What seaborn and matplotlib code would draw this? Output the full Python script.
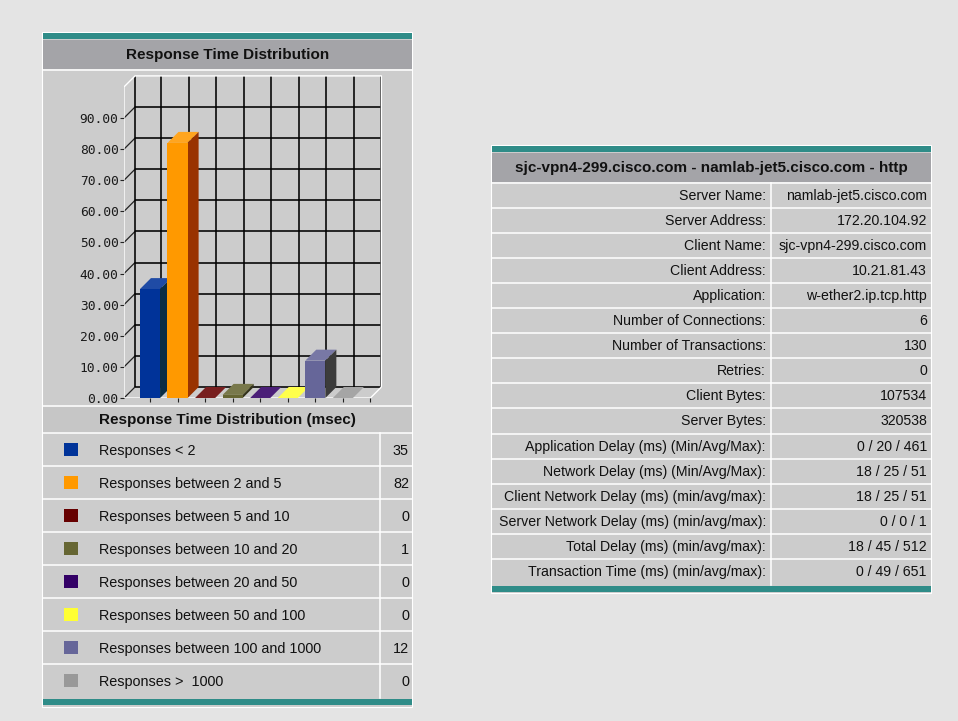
import math
import numpy as np
import matplotlib
matplotlib.use("Agg")
import matplotlib.pyplot as plt
from matplotlib.patches import Rectangle, Polygon
from matplotlib.colors import to_rgb
import seaborn as sns

plt.rcParams['font.family'] = ['Liberation Sans', 'DejaVu Sans']

# data
bins = ["Responses < 2", "Responses between 2 and 5", "Responses between 5 and 10",
        "Responses between 10 and 20", "Responses between 20 and 50",
        "Responses between 50 and 100", "Responses between 100 and 1000",
        "Responses >  1000"]
counts = [35, 82, 0, 1, 0, 0, 12, 0]
y_ticks = list(range(0, 100, 10))

chart_title = "Response Time Distribution"
legend_title = "Response Time Distribution (msec)"
table_title = "sjc-vpn4-299.cisco.com - namlab-jet5.cisco.com - http"
info_labels = ["Server Name:", "Server Address:", "Client Name:", "Client Address:",
               "Application:", "Number of Connections:", "Number of Transactions:",
               "Retries:", "Client Bytes:", "Server Bytes:",
               "Application Delay (ms) (Min/Avg/Max):", "Network Delay (ms) (Min/Avg/Max):",
               "Client Network Delay (ms) (min/avg/max):",
               "Server Network Delay (ms) (min/avg/max):",
               "Total Delay (ms) (min/avg/max):", "Transaction Time (ms) (min/avg/max):"]
info_values = ["namlab-jet5.cisco.com", "172.20.104.92", "sjc-vpn4-299.cisco.com",
               "10.21.81.43", "w-ether2.ip.tcp.http", "6", "130", "0", "107534", "320538",
               "0 / 20 / 461", "18 / 25 / 51", "18 / 25 / 51", "0 / 0 / 1",
               "18 / 45 / 512", "0 / 49 / 651"]

# colours
bar_colors = ["#003399", "#ff9900", "#660000", "#666633", "#330066", "#ffff33", "#666699", "#999999"]
side_colors = ["#0a2d44", "#993300", "#330000", "#33331a", "#1a0033", "#aaaa22", "#3c3c3c", "#808080"]
PAGE = "#e4e4e4"
PANEL = "#cccccc"
HEAD = "#a4a4a8"
TEAL = "#2f8c88"
INK = "#111111"

W, H = 958, 721
fig = plt.figure(figsize=(W / 100, H / 100), dpi=100)
fig.patch.set_facecolor(PAGE)
bg = fig.add_axes([0, 0, 1, 1])
bg.set_xlim(0, W)
bg.set_ylim(H, 0)
bg.axis("off")


def box(x, y, w, h, fc, ec="none", lw=0):
    bg.add_patch(Rectangle((x, y), w, h, facecolor=fc, edgecolor=ec, linewidth=lw))


def hline(y, x1, x2, c="white", lw=1.1):
    bg.plot([x1, x2], [y, y], color=c, lw=lw, solid_capstyle="butt")


def txt(x, y, s, ha, **kw):
    # baseline a fixed distance below the row centre, snapped to whole pixels
    bg.text(x, math.floor(y + 4.5), s, ha=ha, va="baseline", color=INK, **kw)


# left panel
box(42.5, 31.5, 370, 675, PANEL, ec="white", lw=0.8)
box(43, 32.5, 369, 6, TEAL)
box(43, 40, 369, 29, HEAD)
hline(69.8, 43, 412)
txt(227.5, 55, chart_title, "center", fontsize=11, weight="bold")
hline(406, 43, 412)
box(43, 407, 369, 25.5, "#c6c6c6")
txt(227.5, 420, legend_title, "center", fontsize=11, weight="bold")
row_h = 33
for i, (name, val) in enumerate(zip(bins, counts)):
    top = 433 + row_h * i
    hline(top, 43, 412)
    cy = top + row_h / 2
    box(64, cy - 6.5, 14, 13, bar_colors[i])
    txt(99, cy + 1, name, "left", fontsize=10.4)
    txt(409, cy + 1, str(val), "right", fontsize=10.4)
bg.plot([380.5, 380.5], [433, 698], color="white", lw=1.1)
box(43, 699, 369, 6, TEAL)

# right panel
box(491.5, 144.5, 440, 448, PANEL, ec="white", lw=0.8)
box(492, 146, 439, 6, TEAL)
box(492, 153, 439, 29, HEAD)
txt(711.5, 168, table_title, "center", fontsize=11, weight="bold")
info_h = 25.1
for i, (lab, val) in enumerate(zip(info_labels, info_values)):
    top = 182.5 + info_h * i
    hline(top, 492, 931)
    cy = top + info_h / 2 + 0.5
    txt(766, cy, lab, "right", fontsize=10.2)
    txt(927, cy, val, "right", fontsize=10.2)
bg.plot([771.5, 771.5], [182.5, 585], color="white", lw=1.1)
box(492, 586, 439, 6, TEAL)

# pseudo-3D bar chart
PX, X0PX = 27.55, 150.0
PY, Y0PX = 3.111, 398.0
x0 = (124 - X0PX) / PX
ddx, ddy = 11 / PX, 11 / PY
xr = 8 + ddx + 0.12
yt = 100 + ddy + 0.6
ax = fig.add_axes([(X0PX + PX * x0) / W, (H - Y0PX) / H, PX * (xr - x0) / W, PY * yt / H])
ax.set_facecolor("none")

grid_kw = dict(color="#000000", lw=1.15, zorder=1, solid_capstyle="butt")
for v in y_ticks:
    ax.plot([x0 + ddx, 8 + ddx], [v + ddy, v + ddy], **grid_kw)
    ax.plot([x0, x0 + ddx], [v, v + ddy], color="#222222", lw=0.9, zorder=1)
for k in [x0] + list(range(9)):
    ax.plot([k + ddx, k + ddx], [ddy, 100 + ddy], **grid_kw)
edge_kw = dict(color="white", lw=1.0, zorder=2, solid_capstyle="butt")
ax.plot([x0, x0, x0 + ddx, 8 + ddx, 8 + ddx], [0, 100, 100 + ddy, 100 + ddy, ddy], **edge_kw)
ax.plot([x0, 8, 8 + ddx], [0, 0, ddy], **edge_kw)

sns.barplot(x=bins, y=counts, hue=bins, palette=bar_colors, width=0.73, saturation=1,
            errorbar=None, legend=False, linewidth=0, ax=ax)
fronts = sorted(ax.patches, key=lambda p: p.get_x())
for i, (p, v) in enumerate(zip(fronts, counts)):
    left = p.get_x()
    right = left + p.get_width()
    z = 3 + i
    p.set_zorder(z + 0.5)
    top_c = tuple(np.array(to_rgb(bar_colors[i])) * 0.88 + 0.12)
    ax.add_patch(Polygon([(left, v), (right, v), (right + ddx, v + ddy), (left + ddx, v + ddy)],
                         closed=True, facecolor=top_c, edgecolor="none", zorder=z))
    ax.add_patch(Polygon([(right, 0), (right, v), (right + ddx, v + ddy), (right + ddx, ddy)],
                         closed=True, facecolor=side_colors[i], edgecolor="none", zorder=z))

ax.set_xlim(x0, xr)
ax.set_ylim(0, yt)
ax.set_xticks(range(9))
ax.set_xticklabels([])
ax.set_yticks(y_ticks)
ax.set_yticklabels([f"{v:.2f}" for v in y_ticks], family="DejaVu Sans Mono", fontsize=9.3, color="#1a1a1a")
ax.set_xlabel("")
ax.set_ylabel("")
for s in ax.spines.values():
    s.set_visible(False)
ax.tick_params(length=3, width=0.8, color="#222222", pad=1)

fig.savefig("out.png", dpi=100, facecolor=PAGE)
